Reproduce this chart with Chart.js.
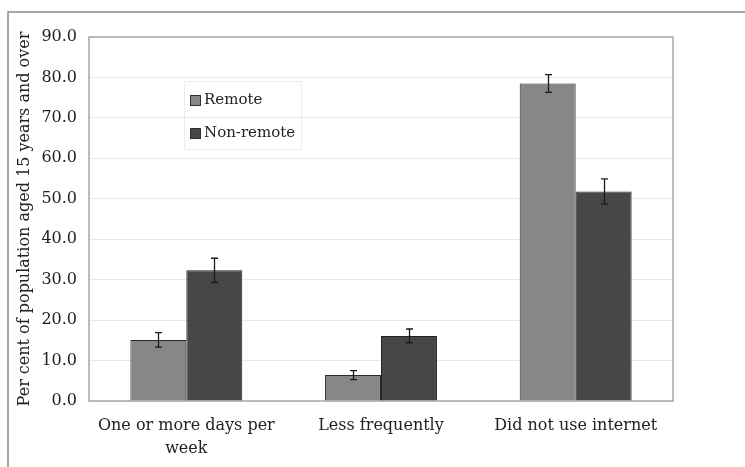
<!DOCTYPE html>
<html>
<head>
<meta charset="utf-8">
<script src="https://cdn.jsdelivr.net/npm/chart.js@4.4.1/dist/chart.umd.min.js"></script>
<style>
  html, body { margin: 0; padding: 0; background: #fff; }
  #wrap { width: 745px; height: 467px; position: relative; }
</style>
</head>
<body>
<div id="wrap"><canvas id="myChart" width="745" height="467"></canvas></div>
<script>
const categories = [["One or more days per", "week"], "Less frequently", "Did not use internet"];
const remote = [15.1, 6.4, 78.5];
const remoteErr = [1.8, 1.1, 2.2];
const nonRemote = [32.3, 16.1, 51.8];
const nonRemoteErr = [3.0, 1.7, 3.1];
const yTicks = [0, 10, 20, 30, 40, 50, 60, 70, 80, 90];

const FONT = "'DejaVu Serif', 'Liberation Serif', serif";
const TEXT = "#222";
const errs = [remoteErr, nonRemoteErr];

// error bars + plot frame + page frame + legend
const extras = {
  id: "extras",
  beforeDatasetsDraw(chart) {
    const { ctx, chartArea: a } = chart;
    ctx.save();
    ctx.strokeStyle = "#a8a8a8";
    ctx.lineWidth = 1.5;
    ctx.strokeRect(a.left, a.top, a.right - a.left, a.bottom - a.top);
    ctx.restore();
  },
  afterDatasetsDraw(chart) {
    const { ctx } = chart;
    const y = chart.scales.y;
    ctx.save();
    ctx.strokeStyle = "#1a1a1a";
    ctx.lineWidth = 1.3;
    chart.data.datasets.forEach((ds, i) => {
      const meta = chart.getDatasetMeta(i);
      meta.data.forEach((bar, j) => {
        const v = ds.data[j], e = errs[i][j];
        const x = Math.round(bar.x) + 0.5;
        const y1 = y.getPixelForValue(v + e), y2 = y.getPixelForValue(v - e);
        ctx.beginPath();
        ctx.moveTo(x, y1); ctx.lineTo(x, y2);
        ctx.moveTo(x - 3.5, y1); ctx.lineTo(x + 3.5, y1);
        ctx.moveTo(x - 3.5, y2); ctx.lineTo(x + 3.5, y2);
        ctx.stroke();
      });
    });
    ctx.restore();
  },
  afterDraw(chart) {
    const { ctx } = chart;
    ctx.save();
    // outer frame (top and left only, the rest is cropped)
    ctx.strokeStyle = "#8c8c8c";
    ctx.lineWidth = 1.5;
    ctx.beginPath();
    ctx.moveTo(8, 467); ctx.lineTo(8, 12); ctx.lineTo(745, 12);
    ctx.stroke();
    // legend box
    ctx.strokeStyle = "#ececec";
    ctx.lineWidth = 1;
    ctx.strokeRect(184.5, 81.5, 117, 68);
    ctx.font = "15px " + FONT;
    ctx.textBaseline = "middle";
    chart.data.datasets.forEach((ds, i) => {
      const cy = 100 + i * 33;
      ctx.fillStyle = ds.backgroundColor;
      ctx.fillRect(190, cy - 5, 10, 10);
      ctx.strokeStyle = "#303030";
      ctx.strokeRect(190.5, cy - 4.5, 10, 10);
      ctx.fillStyle = TEXT;
      ctx.fillText(ds.label, 204, cy);
    });
    ctx.restore();
  }
};

new Chart(document.getElementById("myChart"), {
  type: "bar",
  data: {
    labels: categories,
    datasets: [
      {
        label: "Remote",
        data: remote,
        backgroundColor: "#878787",
        borderColor: "#2a2a2a",
        borderWidth: 1,
        categoryPercentage: 0.575,
        barPercentage: 1.0
      },
      {
        label: "Non-remote",
        data: nonRemote,
        backgroundColor: "#474747",
        borderColor: "#222",
        borderWidth: 1,
        categoryPercentage: 0.575,
        barPercentage: 1.0
      }
    ]
  },
  options: {
    responsive: false,
    animation: false,
    layout: { padding: { left: 10, top: 37, right: 72, bottom: 0 } },
    plugins: {
      legend: { display: false },
      tooltip: { enabled: false }
    },
    scales: {
      x: {
        grid: { display: false, drawTicks: false },
        border: { display: false },
        ticks: {
          color: TEXT,
          font: { family: FONT, size: 16, lineHeight: 1.4 },
          padding: 14,
          maxRotation: 0,
          autoSkip: false
        },
        afterFit(scale) { scale.height = 66; }
      },
      y: {
        min: 0,
        max: 90,
        afterBuildTicks(scale) { scale.ticks = yTicks.map(v => ({ value: v })); },
        grid: { color: "#e8e8e8", lineWidth: 1, drawTicks: false },
        border: { display: false },
        ticks: {
          color: TEXT,
          font: { family: FONT, size: 16 },
          padding: 12,
          callback: v => v.toFixed(1)
        },
        title: {
          display: true,
          text: "Per cent of population aged 15 years and over",
          color: TEXT,
          font: { family: FONT, size: 16 },
          padding: { top: 5, bottom: 0 }
        },
        afterFit(scale) { scale.width = 79; }
      }
    }
  },
  plugins: [extras]
});
</script>
</body>
</html>
